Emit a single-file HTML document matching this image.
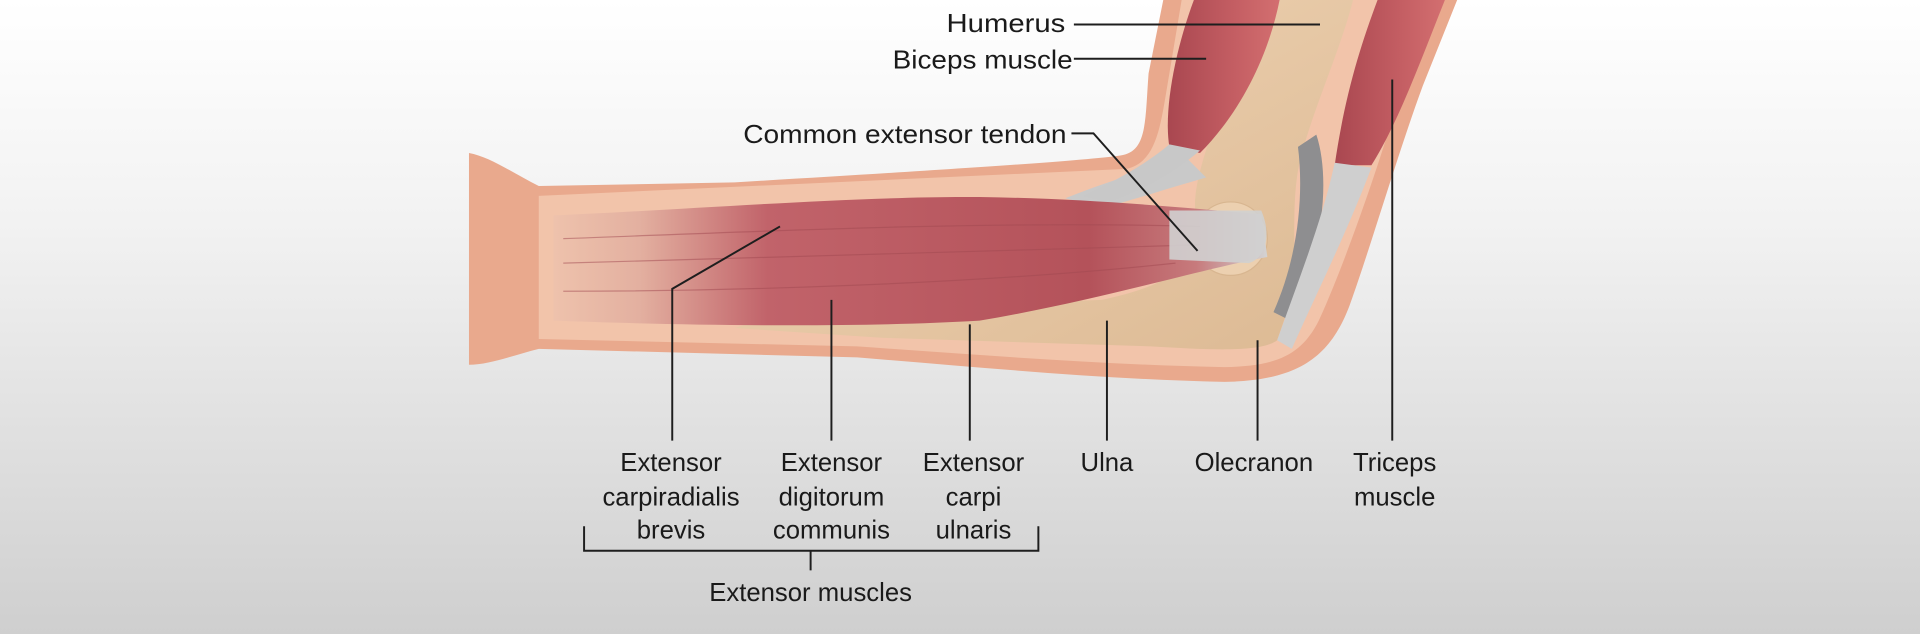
<!DOCTYPE html>
<html><head><meta charset="utf-8"><style>
html,body{margin:0;padding:0;width:1920px;height:634px;overflow:hidden}
svg{display:block}
text{font-family:"Liberation Sans",Arial,sans-serif;font-size:21px;fill:#1a1a1a}
</style></head><body>
<svg width="1920" height="634" viewBox="0 0 1568 518" preserveAspectRatio="none">
<defs>
<linearGradient id="bg" x1="0" y1="0" x2="0" y2="1">
<stop offset="0" stop-color="#ffffff"/><stop offset="0.35" stop-color="#f2f2f2"/><stop offset="1" stop-color="#cfcfcf"/></linearGradient>
<linearGradient id="mus" x1="0" y1="0" x2="1" y2="0">
<stop offset="0" stop-color="#eec2ac"/><stop offset="0.12" stop-color="#e3b0a0"/><stop offset="0.3" stop-color="#c1636a"/><stop offset="0.75" stop-color="#b4525a"/><stop offset="0.9" stop-color="#c77a7c"/><stop offset="1" stop-color="#d3d3d3"/></linearGradient>
<linearGradient id="bone" x1="0" y1="0" x2="1" y2="1">
<stop offset="0" stop-color="#f1d7b8"/><stop offset="1" stop-color="#dcb993"/></linearGradient>
<linearGradient id="red" x1="0" y1="0" x2="1" y2="0">
<stop offset="0" stop-color="#a94750"/><stop offset="0.6" stop-color="#c45e63"/><stop offset="1" stop-color="#d36f70"/></linearGradient>
</defs>
<rect width="1568" height="518" fill="url(#bg)"/>
<path d="M383,125 C400,128 420,142 440,152 L600,149 C750,140 880,132 915,127 C937,124 935,100 938,60 L950,0 L1190,0 L1162,70 C1140,130 1120,200 1102,250 C1086,292 1060,311 1000,312 C900,310 800,300 700,292 L440,285 C420,290 400,298 383,298 Z" fill="#e9a98d"/>
<path d="M440,160 L920,138 C946,132 948,100 955,60 L965,0 L1172,0 L1142,80 C1122,150 1092,230 1077,262 C1062,292 1040,299 1000,300 C900,298 800,290 700,283 L440,277 Z" fill="#f2c4aa"/>
<path d="M1005,0 L1105,0 C1095,40 1072,90 1062,130 C1052,170 1062,220 1052,252 L1043,278 C1030,288 990,286 940,283 L720,276 L600,268 L640,255 L900,245 C960,232 982,215 976,170 C975,150 985,120 1000,80 Z" fill="url(#bone)"/>
<ellipse cx="1005" cy="195" rx="30" ry="30" fill="#ecd0b0" stroke="#d8b690" stroke-width="1"/>
<path d="M1075,110 C1085,140 1082,190 1065,230 L1050,260 L1040,255 C1060,210 1065,160 1060,120 Z" fill="#8e8e90"/>
<path d="M870,162 C900,150 930,140 970,130 L985,145 C950,155 920,165 900,170 Z" fill="#c9c9c9"/>
<path d="M955,120 C950,90 960,40 975,0 L1045,0 C1035,50 1010,95 980,125 Z" fill="url(#red)"/>
<path d="M955,118 L980,123 C960,140 935,155 905,165 L885,160 C910,148 935,135 955,118 Z" fill="#c8c8c8"/>
<path d="M1090,135 C1098,80 1110,40 1125,0 L1180,0 C1160,50 1142,100 1120,135 Z" fill="url(#red)"/>
<path d="M1090,133 L1120,137 C1100,190 1075,240 1055,285 L1043,278 C1060,230 1080,180 1090,133 Z" fill="#cfcfcf"/>
<path d="M452,176 C550,172 700,160 800,161 C880,162 950,168 1030,175 L1035,210 C980,220 900,245 800,262 C700,268 560,266 452,262 Z" fill="url(#mus)"/>
<g stroke="#a24a52" stroke-width="1" opacity="0.5" fill="none">
<path d="M460,195 C600,190 800,180 980,185"/><path d="M460,215 C600,212 800,205 980,200"/><path d="M460,238 C600,238 800,232 960,215"/></g>
<path d="M955,172 L1030,172 C1038,190 1035,210 1020,215 L955,212 Z" fill="#d0d0d0" opacity="0.9"/>
<g stroke="#1e1e1e" stroke-width="1.6" fill="none">
<path d="M877,20 L1078,20"/><path d="M877,48 L985,48"/>
<path d="M875,109 L893,109 L978,205"/>
<path d="M637,185 L549,236 L549,360"/>
<path d="M679,245 L679,360"/><path d="M792,265 L792,360"/><path d="M904,262 L904,360"/>
<path d="M1027,278 L1027,360"/><path d="M1137,65 L1137,360"/>
<path d="M477,430 L477,450 L848,450 L848,430"/><path d="M662,450 L662,466"/>
</g>
<text x="773" y="26" textLength="97" lengthAdjust="spacingAndGlyphs">Humerus</text>
<text x="729" y="56" textLength="147" lengthAdjust="spacingAndGlyphs">Biceps muscle</text>
<text x="607" y="117" textLength="264" lengthAdjust="spacingAndGlyphs">Common extensor tendon</text>
<g text-anchor="middle">
<text x="548" y="385">Extensor</text><text x="548" y="413">carpiradialis</text><text x="548" y="440">brevis</text>
<text x="679" y="385">Extensor</text><text x="679" y="413">digitorum</text><text x="679" y="440">communis</text>
<text x="795" y="385">Extensor</text><text x="795" y="413">carpi</text><text x="795" y="440">ulnaris</text>
<text x="904" y="385">Ulna</text>
<text x="1024" y="385">Olecranon</text>
<text x="1139" y="385">Triceps</text><text x="1139" y="413">muscle</text>
<text x="662" y="491">Extensor muscles</text>
</g>
</svg>
</body></html>
